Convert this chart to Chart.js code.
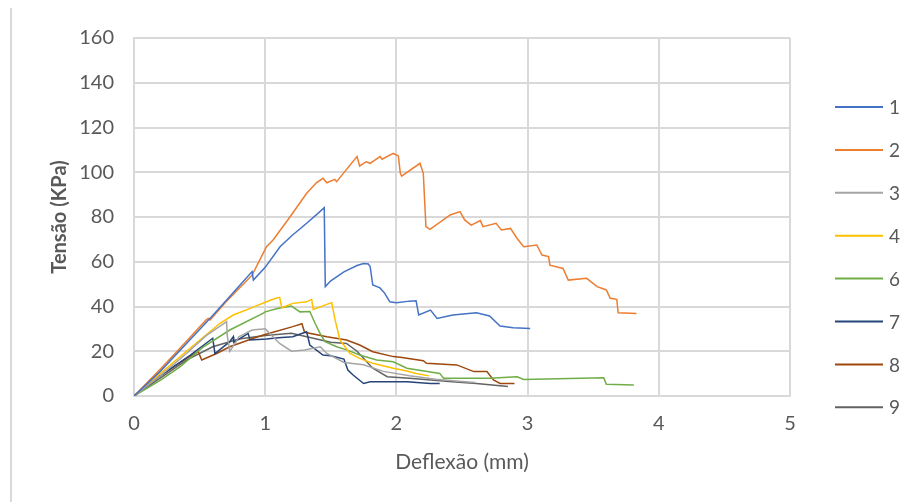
<!DOCTYPE html>
<html>
<head>
<meta charset="utf-8">
<script src="https://cdn.jsdelivr.net/npm/chart.js@4.4.0/dist/chart.umd.min.js"></script>
<style>
  html, body { margin: 0; padding: 0; background: #fff; }
  #wrap { position: relative; width: 920px; height: 502px; }
  #edge { position: absolute; left: 10px; top: 8px; width: 0; height: 494px; border-left: 2px solid #d9d9d9; }
</style>
</head>
<body>
<div id="wrap">
  <div id="edge"></div>
  <canvas id="curves" width="920" height="502"></canvas>
</div>
<script>
// series names as in the legend (there is no "5")
const seriesNames = ['1', '2', '3', '4', '6', '7', '8', '9'];
const seriesColors = ['#4472C4', '#ED7D31', '#A5A5A5', '#FFC000', '#70AD47', '#264478', '#9E480E', '#636363'];

// deflexao (mm) / tensao (KPa)
const s1x = [0, 0.2, 0.4, 0.6, 0.8, 0.9, 0.91, 1.0, 1.113, 1.2, 1.316, 1.4, 1.45, 1.458, 1.5, 1.6, 1.7, 1.75, 1.786, 1.80, 1.82, 1.875, 1.91, 1.95, 2.0, 2.1, 2.15, 2.17, 2.26, 2.31, 2.43, 2.61, 2.71, 2.79, 2.89, 3.02];
const s1y = [0, 11, 23.5, 36, 49, 55.6, 51.8, 57.5, 66.7, 71.5, 77.2, 81.5, 84.2, 48.9, 51.5, 55.5, 58.3, 59.2, 59, 57.8, 49.6, 48.3, 46, 42.1, 41.7, 42.4, 42.6, 36.2, 38.4, 34.7, 36.2, 37.2, 35.8, 31.3, 30.5, 30.2];

const s2x = [0, 0.2, 0.4, 0.55, 0.566, 0.58, 0.7, 0.9, 1.01, 1.06, 1.19, 1.316, 1.39, 1.44, 1.47, 1.53, 1.545, 1.595, 1.70, 1.72, 1.77, 1.80, 1.875, 1.89, 1.976, 2.015, 2.03, 2.04, 2.18, 2.205, 2.225, 2.256, 2.41, 2.485, 2.52, 2.57, 2.64, 2.66, 2.76, 2.80, 2.87, 2.92, 2.97, 3.07, 3.11, 3.16, 3.17, 3.27, 3.31, 3.45, 3.53, 3.60, 3.63, 3.68, 3.69, 3.83];
const s2y = [0, 12, 24.5, 34, 34.7, 34, 42, 54, 66.7, 69.7, 80.1, 90.6, 95.3, 97.3, 95.3, 96.8, 95.8, 99.5, 107, 102.8, 104.7, 104, 107, 105.8, 108.4, 107.3, 99.5, 98.3, 104, 99.5, 75.7, 74.5, 80.9, 82.4, 78.7, 76.4, 78.4, 75.7, 77.2, 74.2, 74.9, 70.4, 66.7, 67.5, 63, 62.3, 58.5, 57, 51.8, 52.6, 48.9, 47.4, 43.7, 43.2, 37.2, 36.9];

const s3x = [0, 0.2, 0.4, 0.55, 0.706, 0.71, 0.73, 0.77, 0.8, 0.9, 1.0, 1.05, 1.11, 1.2, 1.3, 1.42, 1.47, 1.6, 1.75, 1.9, 2.1, 2.3, 2.5, 2.6];
const s3y = [0, 9, 19, 27, 33.2, 27.3, 20, 23.5, 26.5, 29.5, 30, 27, 23.5, 20, 20.6, 22, 19, 15, 14, 11, 9, 7.5, 6.5, 6];

const s4x = [0, 0.2, 0.4, 0.655, 0.757, 0.9, 1.01, 1.075, 1.11, 1.126, 1.21, 1.316, 1.354, 1.366, 1.49, 1.507, 1.53, 1.57, 1.646, 1.72, 1.82, 1.976, 2.08, 2.15, 2.25];
const s4y = [0, 10, 20, 32.5, 36.2, 39.5, 42.1, 43.6, 44.1, 39.5, 41.4, 42.1, 43.2, 38.7, 41.4, 41.7, 34.7, 25, 19, 16.8, 14.6, 12.4, 11.2, 10.1, 9];

const s6x = [0, 0.2, 0.35, 0.53, 0.73, 0.986, 1.0, 1.1, 1.2, 1.265, 1.34, 1.38, 1.418, 1.456, 1.545, 1.62, 1.72, 1.85, 1.976, 2.08, 2.33, 2.36, 2.71, 2.92, 2.97, 3.58, 3.60, 3.81];
const s6y = [0, 7, 13, 22, 29.5, 37, 37.6, 39.2, 40.2, 37.6, 37.8, 32.5, 28, 24.3, 22, 20.6, 18.3, 16.1, 15.3, 12.4, 10.1, 7.9, 7.9, 8.6, 7.4, 8.2, 5.2, 4.9];

const s7x = [0, 0.2, 0.43, 0.6, 0.617, 0.73, 0.757, 0.76, 0.87, 0.884, 1.01, 1.1, 1.21, 1.316, 1.34, 1.44, 1.5, 1.6, 1.63, 1.67, 1.75, 1.8, 2.08, 2.26, 2.33];
const s7y = [0, 9, 18.3, 25.8, 19, 24.3, 26.5, 24, 28, 25, 25.5, 26, 26.5, 28.7, 22.8, 18.3, 18, 16.5, 11.6, 9.4, 5.6, 6.4, 6.4, 5.6, 5.6];

const s8x = [0, 0.2, 0.40, 0.49, 0.516, 0.63, 0.73, 0.91, 0.986, 1.06, 1.21, 1.28, 1.30, 1.47, 1.62, 1.72, 1.82, 1.976, 2.03, 2.205, 2.23, 2.46, 2.59, 2.69, 2.74, 2.79, 2.90];
const s8y = [0, 9, 16.8, 19.8, 16.1, 19, 22, 25.8, 27.3, 28.5, 31, 32.3, 28.5, 26.5, 25, 22.8, 19.8, 17.6, 17.3, 15.8, 14.6, 13.9, 10.9, 10.9, 7.2, 5.6, 5.6];

const s9x = [0, 0.2, 0.4, 0.6, 0.8, 1.0, 1.2, 1.35, 1.5, 1.62, 1.7, 1.82, 1.93, 2.1, 2.4, 2.61, 2.85];
const s9y = [0, 8, 16, 22, 25.5, 27, 28, 26, 24, 23.5, 20, 12.4, 8.6, 7.9, 6.5, 5.6, 4.2];

const allX = [s1x, s2x, s3x, s4x, s6x, s7x, s8x, s9x];
const allY = [s1y, s2y, s3y, s4y, s6y, s7y, s8y, s9y];

const yTicks = [0, 20, 40, 60, 80, 100, 120, 140, 160];
const xTicks = [0, 1, 2, 3, 4, 5];

const textColor = '#595959';
const gridColor = '#d9d9d9';
const fontFamily = 'Lato, "Liberation Sans", sans-serif';

const datasets = seriesNames.map((name, i) => ({
    label: name,
    data: allX[i].map((x, j) => ({ x: x, y: allY[i][j] })),
    borderColor: seriesColors[i],
    backgroundColor: seriesColors[i],
    borderWidth: 1.5,
    pointRadius: 0,
    showLine: true,
    tension: 0,
}));

// legend drawn on the right, Excel style
const sideLegend = {
    id: 'sideLegend',
    afterDraw(chart) {
        const ctx = chart.ctx;
        ctx.save();
        ctx.font = '19px ' + fontFamily;
        ctx.textBaseline = 'middle';
        ctx.textAlign = 'left';
        chart.data.datasets.forEach((ds, i) => {
            const y = 107 + i * 42.9;
            ctx.strokeStyle = ds.borderColor;
            ctx.lineWidth = 2;
            ctx.beginPath();
            ctx.moveTo(835, y);
            ctx.lineTo(883, y);
            ctx.stroke();
            ctx.fillStyle = textColor;
            ctx.fillText(ds.label, 889, y + 1);
        });
        ctx.restore();
    }
};

new Chart(document.getElementById('curves'), {
    type: 'scatter',
    data: { datasets: datasets },
    options: {
        responsive: false,
        animation: false,
        layout: { padding: { top: 38, right: 130, left: 0, bottom: 0 } },
        plugins: {
            legend: { display: false },
            tooltip: { enabled: false },
        },
        scales: {
            x: {
                type: 'linear',
                min: 0,
                max: 5,
                afterBuildTicks: (axis) => { axis.ticks = xTicks.map(v => ({ value: v })); },
                afterFit: (axis) => { axis.height = 106; },
                grid: { color: gridColor, lineWidth: 2, drawTicks: false },
                border: { color: gridColor, width: 2 },
                ticks: { color: textColor, font: { family: fontFamily, size: 20 }, padding: 16 },
                title: {
                    display: true,
                    text: 'Deflexão (mm)',
                    color: textColor,
                    font: { family: fontFamily, size: 21 },
                    padding: { top: 0, bottom: 27 },
                },
            },
            y: {
                type: 'linear',
                min: 0,
                max: 160,
                afterBuildTicks: (axis) => { axis.ticks = yTicks.map(v => ({ value: v })); },
                afterFit: (axis) => { axis.width = 134; },
                grid: { color: gridColor, lineWidth: 2, drawTicks: false },
                border: { color: gridColor, width: 2 },
                ticks: { color: textColor, font: { family: fontFamily, size: 20 }, padding: 20 },
                title: {
                    display: true,
                    text: 'Tensão (KPa)',
                    color: textColor,
                    font: { family: fontFamily, size: 20, weight: 'bold' },
                    padding: { top: 48, bottom: 0 },
                },
            },
        },
    },
    plugins: [sideLegend],
});
</script>
</body>
</html>
